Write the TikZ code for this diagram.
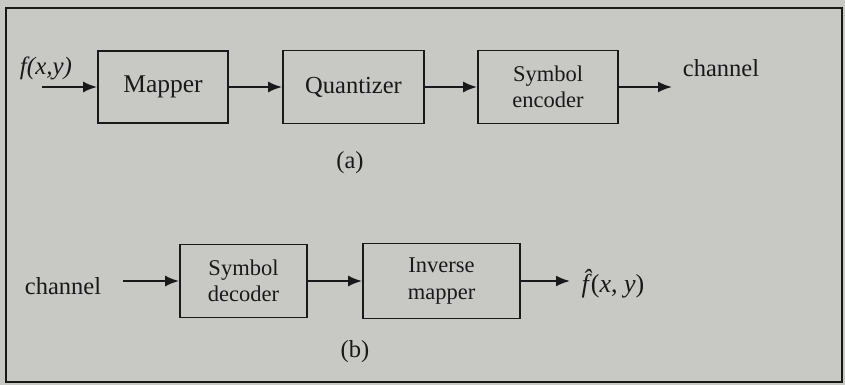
\documentclass[tikz,border=0pt]{standalone}
\usepackage{fontspec}
\setmainfont{Liberation Serif}
\usetikzlibrary{arrows.meta}
\definecolor{paper}{RGB}{200,200,196}
\definecolor{ink}{RGB}{25,25,25}
\tikzset{
  blk/.style={draw=ink, line width=1.8pt, rectangle, inner sep=0pt, align=center, text=ink,
    font=\fontsize{22.5}{26.5}\selectfont},
  lbl/.style={text=ink, inner sep=0pt, font=\fontsize{24.5}{28}\selectfont},
  arr/.style={draw=ink, line width=2pt, -{Latex[length=14pt,width=11pt]}},
}
\begin{document}
\begin{tikzpicture}[x=1pt,y=-1pt]
\useasboundingbox (0,0) rectangle (845,385);
\fill[paper] (0,0) rectangle (845,385);
\draw[ink, line width=2.2pt] (6,8) rectangle (842,382);
% (a)
\node[blk, minimum width=130pt, minimum height=72pt, font=\fontsize{25.5}{28}\selectfont] (map) at (163,87) {Mapper};
\node[blk, minimum width=141pt, minimum height=73pt, font=\fontsize{24.5}{28}\selectfont] (quant) at (353.5,87) {Quantizer};
\node[blk, minimum width=140pt, minimum height=73pt] (enc) at (548,87) {Symbol\\encoder};
\coordinate (ain) at (42,87);
\coordinate (aout) at (672,87);
\node[lbl, font=\fontsize{25}{28}\selectfont\itshape] (fxy) at (46,68) {f(x,y)};
\node[lbl] (ch1) at (721,68) {channel};
\draw[arr] (ain) -- (map);
\draw[arr] (map) -- (quant);
\draw[arr] (quant) -- (enc);
\draw[arr] (enc) -- (aout);
\node[lbl] (la) at (350,163) {(a)};
% (b)
\node[blk, minimum width=127pt, minimum height=73pt] (dec) at (243.5,281) {Symbol\\decoder};
\node[blk, minimum width=157pt, minimum height=75pt] (inv) at (441.5,281) {Inverse\\mapper};
\node[lbl] (ch2) at (63,286) {channel};
\coordinate (bin) at (123,281);
\coordinate (bout) at (570,281);
\node[lbl, font=\fontsize{26}{28}\selectfont] (fhat) at (613,284) {{\itshape\^{f}}\kern2pt(\textit{x}, \textit{y}\/)};
\draw[arr] (bin) -- (dec);
\draw[arr] (dec) -- (inv);
\draw[arr] (inv) -- (bout);
\node[lbl] (lb) at (355,352) {(b)};
\end{tikzpicture}
\end{document}
